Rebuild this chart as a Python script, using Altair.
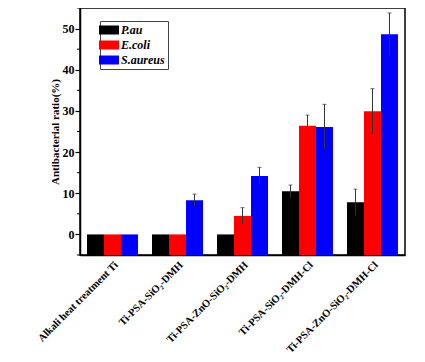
import altair as alt
import pandas as pd

categories = ["Alkali heat treatment Ti", "Ti-PSA-SiO\u2082-DMH", "Ti-PSA-ZnO-SiO\u2082-DMH",
              "Ti-PSA-SiO\u2082-DMH-Cl", "Ti-PSA-ZnO-SiO\u2082-DMH-Cl"]
species = ["P.au", "E.coli", "S.aureus"]
p_au = [0, 0, 0, 10.5, 7.8]
p_au_err = [0, 0, 0, 1.5, 3.2]
e_coli = [0, 0, 4.5, 26.4, 29.9]
e_coli_err = [0, 0, 2.0, 2.6, 5.5]
s_aureus = [0, 8.3, 14.2, 26.1, 48.6]
s_aureus_err = [0, 1.5, 2.1, 5.5, 5.2]
minor_ticks = [-5, 5, 15, 25, 35, 45, 55]
colors = ["#000000", "#ff0000", "#0000ff"]

rows = []
for sp, vals, errs in zip(species, [p_au, e_coli, s_aureus], [p_au_err, e_coli_err, s_aureus_err]):
    for c, v, e in zip(categories, vals, errs):
        rows.append({"cat": c, "sp": sp, "value": v, "err": e,
                     "lo": v - e, "hi": v + e, "base": -5})
df = pd.DataFrame(rows)
df_err = df[df["err"] > 0]
df_minor = pd.DataFrame({"t": minor_ticks})

FONT = "Liberation Serif"
yscale = alt.Scale(domain=[-5, 55], nice=False, zero=False)
xscale = alt.Scale(paddingInner=0.215, paddingOuter=0.108)

x = alt.X("cat:N", sort=categories, scale=xscale, title=None,
          axis=alt.Axis(labelAngle=-45, labelFont=FONT, labelFontWeight="bold",
                        labelFontSize=10.5, labelColor="black", ticks=False,
                        domainColor="black", domainWidth=1.5, labelPadding=8,
                        labelOffset=4,
                        labelAlign="right", labelBaseline="middle", labelLimit=300))
xoff = alt.XOffset("sp:N", sort=species, scale=alt.Scale(paddingInner=0, paddingOuter=0))

bars = alt.Chart(df).mark_bar(size=17).encode(
    x=x, xOffset=xoff,
    y=alt.Y("value:Q", scale=yscale, title="Antibacterial ratio(%)",
            axis=alt.Axis(values=[0, 10, 20, 30, 40, 50], grid=False, labelFont=FONT,
                          labelFontWeight="bold", labelFontSize=12, labelColor="black",
                          tickColor="black", tickSize=5, tickWidth=1.2,
                          domainColor="black", domainWidth=1.5,
                          titleFont=FONT, titleFontWeight="bold", titleFontSize=11,
                          titleColor="black", titlePadding=2, labelPadding=1)),
    y2=alt.Y2("base:Q"),
    color=alt.Color("sp:N", sort=species, scale=alt.Scale(domain=species, range=colors),
                    legend=alt.Legend(title=None, orient="none", legendX=20, legendY=13,
                                      symbolType="M-2,-0.9L2,-0.9L2,0.9L-2,0.9Z",
                                      symbolSize=100, symbolStrokeWidth=0,
                                      labelFont=FONT, labelFontStyle="italic",
                                      labelFontWeight="bold", labelFontSize=12,
                                      labelColor="black", strokeColor="#444",
                                      padding=3, rowPadding=3, labelOffset=6,
                                      fillColor="white")),
)

err_rule = alt.Chart(df_err).mark_rule(color="#333333", strokeWidth=1).encode(
    x=x, xOffset=xoff,
    y=alt.Y("lo:Q", scale=yscale), y2="hi:Q",
)
err_cap = alt.Chart(df_err).mark_tick(color="#333333", thickness=1, size=4).encode(
    x=x, xOffset=xoff,
    y=alt.Y("hi:Q", scale=yscale),
)
minor = alt.Chart(df_minor).mark_rule(color="black", strokeWidth=1).encode(
    y=alt.Y("t:Q", scale=yscale),
    x=alt.value(-3), x2=alt.value(0),
)

chart = alt.layer(bars, err_rule, err_cap, minor).properties(
    width=325, height=247,
    autosize=alt.AutoSizeParams(type="none"),
    padding={"left": 72, "top": 0, "right": 10, "bottom": 105},
).configure_view(stroke="black", strokeWidth=1.5)

chart.save("out.html", embed_options={"renderer": "svg", "actions": False})
